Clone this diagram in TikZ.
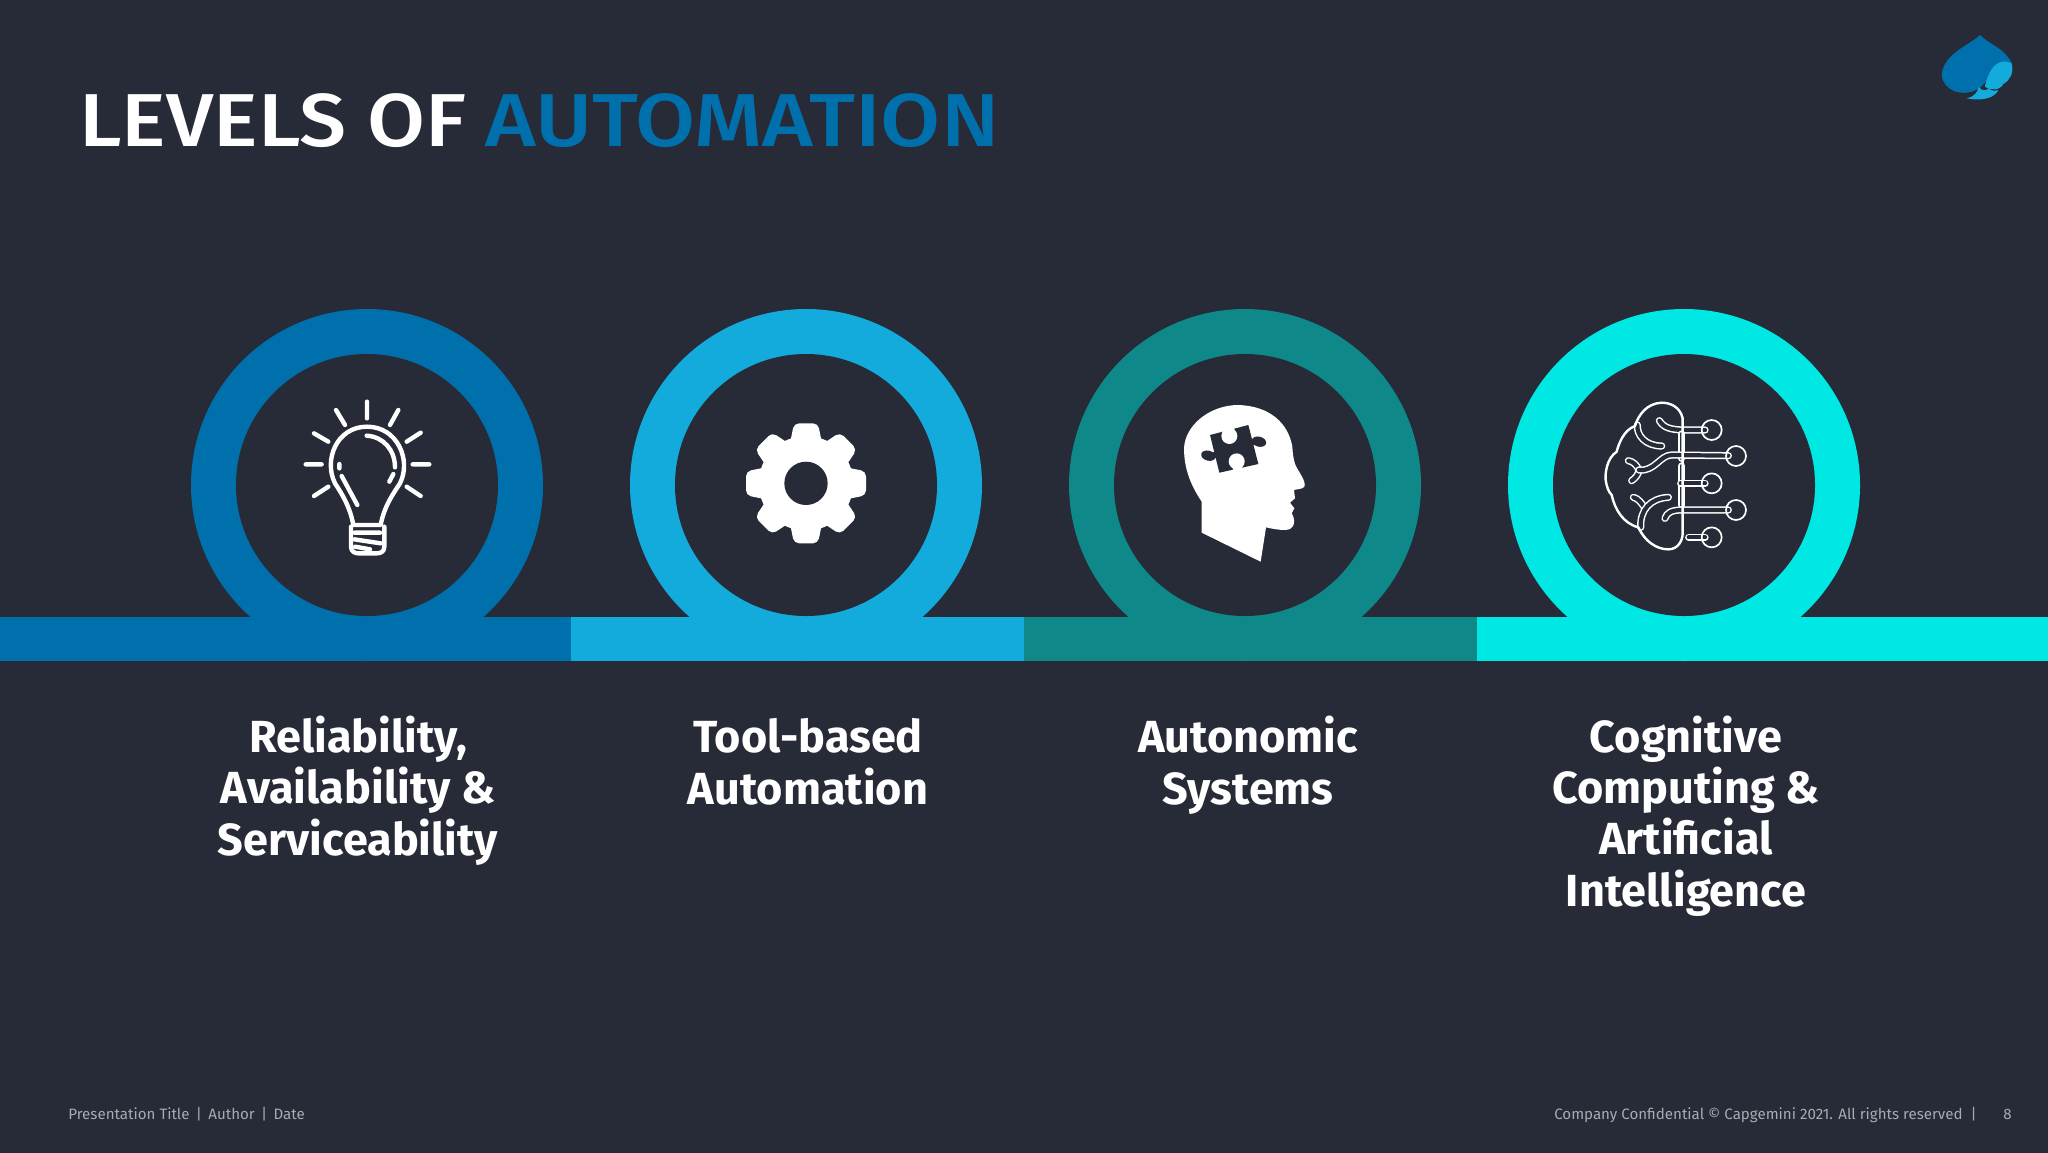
\documentclass[tikz,border=0pt]{standalone}
\usepackage{fontspec}
\setmainfont{Fira Sans}
\newfontfamily\medfontA[FakeStretch=1.12]{Fira Sans Medium}
\newfontfamily\medfontB[FakeStretch=1.16]{Fira Sans Medium}
\definecolor{bgc}{HTML}{272A37}
\definecolor{lvlA}{HTML}{0070AD}
\definecolor{lvlB}{HTML}{12ABDB}
\definecolor{lvlC}{HTML}{0E8889}
\definecolor{lvlD}{HTML}{00E8E4}
\definecolor{foot}{HTML}{A9ABB0}
\tikzset{
  label text/.style={align=center,text=white,font=\fontsize{22.5}{25.6}\selectfont\bfseries,anchor=base},
  foot text/.style={text=foot,font=\fontsize{7.55}{9}\selectfont,inner sep=0pt},
  title text/.style={inner sep=0pt,anchor=base west},
  ring hole/.style={fill=bgc},
  icon line/.style={draw=white,line width=2.2pt,line cap=round,line join=round},
  brain line/.style={draw=white,line width=1.2pt,line cap=round,line join=round},
  tube/.style={draw=white,line width=.75pt,double=bgc,double distance=2.1pt,line cap=round,line join=round},
  icon zoom/.style={shift={#1},scale=1/3}
}
\begin{document}
\begin{tikzpicture}[x=0.5pt,y=-0.5pt]
\useasboundingbox (0,0) rectangle (2048,1152);
\fill[bgc] (-6,-6) rectangle (2054,1158);

% rings
\fill[lvlA] (367,485) circle (176);
\fill[lvlB] (806,485) circle (176);
\fill[lvlC] (1245,485) circle (176);
\fill[lvlD] (1684,485) circle (176);
\fill[ring hole] (367,485) circle (131);
\fill[ring hole] (806,485) circle (131);
\fill[ring hole] (1245,485) circle (131);
\fill[ring hole] (1684,485) circle (131);
% band
\fill[lvlA] (-6,617) rectangle (571,661);
\fill[lvlB] (571,617) rectangle (1024,661);
\fill[lvlC] (1024,617) rectangle (1477,661);
\fill[lvlD] (1477,617) rectangle (2054,661);

% title
\node[title text,text=white,font=\fontsize{37.5}{40}\medfontA] (t1) at (79,146) {LEVELS OF};
\node[title text,text=lvlA,font=\fontsize{37.5}{40}\medfontB] (t2) at (485,146) {AUTOMATION};

% labels
\node[label text] (l1) at (358,855) {Reliability,\\Availability \&\\Serviceability};
\node[label text] (l2) at (808,804) {Tool-based\\Automation};
\node[label text] (l3) at (1248,804) {Autonomic\\Systems};
\node[label text] (l4) at (1686,906) {Cognitive\\Computing \&\\Artif{}icial\\Intelligence};

% footer
\node[foot text,anchor=base west] (f1) at (68,1119) {Presentation Title\hspace{3.2pt}|\hspace{3.2pt}Author\hspace{3.2pt}|\hspace{3.2pt}Date};
\node[foot text,anchor=base east] (f2) at (1977,1119) {Company Confidential © Capgemini 2021. All rights reserved\ \ |};
\node[foot text,anchor=base east] (f3) at (2012,1119) {8};

% bulb
\begin{scope}[icon zoom={(270,370)}]
\draw[icon line] (250,465) .. controls (240,410) and (215,370) .. (195,340) .. controls (160,270) and (200,170) .. (291,170) .. controls (382,170) and (425,270) .. (390,340) .. controls (370,370) and (342,410) .. (332,465) -- cycle;
\draw[icon line] (243,470) -- (243,530) .. controls (243,545) and (255,550) .. (265,550) -- (320,550) .. controls (332,550) and (343,545) .. (343,530) -- (343,470);
\draw[icon line] (253,488) -- (330,488) (253,508) -- (332,520) (255,530) -- (300,538);
\draw[icon line] (290,197) .. controls (340,200) and (375,240) .. (375,292);
\draw[icon line] (208,282) -- (208,295) (215,318) -- (262,405) (358,335) -- (370,312);
\draw[icon line] (291,95) -- (291,145) (198,120) -- (225,165) (385,120) -- (360,165) (132,190) -- (175,215) (452,188) -- (410,215) (107,283) -- (155,283) (428,283) -- (478,283) (132,378) -- (175,350) (452,378) -- (410,350);
\end{scope}

% gear
\begin{scope}[icon zoom={(720,390)}]
\fill[white] (258,280) circle (142);
\foreach \a in {0,45,...,315}{
  \fill[white,rotate around={\a:(258,280)},rounded corners=2.5pt] (210,160) -- (222,100) -- (294,100) -- (306,160) -- cycle;
}
\fill[bgc] (258,280) circle (65);
\end{scope}

% head
\begin{scope}[icon zoom={(1160,390)}]
\fill[white] (125,428) -- (125,335) .. controls (95,290) and (72,240) .. (72,175) .. controls (75,105) and (150,45) .. (235,45) .. controls (330,48) and (385,100) .. (397,170) .. controls (398,190) and (400,205) .. (405,222) .. controls (415,245) and (440,275) .. (433,290) .. controls (428,298) and (410,297) .. (402,300) -- (405,325) -- (390,338) -- (403,355) -- (395,370) .. controls (408,390) and (405,420) .. (375,420) .. controls (355,420) and (335,416) .. (318,412) -- (302,515) -- cycle;
\fill[bgc] (150,135) -- (265,105) -- (295,222) -- (178,248) -- cycle;
\fill[bgc,rotate around={-15:(297,155)}] (297,155) ellipse (22 and 15);
\fill[bgc] (280,148) rectangle (300,165);
\fill[bgc,rotate around={-15:(145,197)}] (145,197) ellipse (22 and 15);
\fill[bgc] (160,185) rectangle (175,205);
\fill[white] (208,138) circle (24);
\fill[white] (198,112) -- (222,105) -- (225,135) -- (195,140) -- cycle;
\fill[white] (230,214) circle (24);
\fill[white] (218,235) -- (245,230) -- (250,250) -- (222,255) -- cycle;
\end{scope}

% brain
\begin{scope}[icon zoom={(1590,390)}]
\draw[tube] (208,92) .. controls (222,115) and (245,118) .. (275,120) -- (345,120);
\draw[tube] (275,132) -- (275,205);
\draw[tube] (115,212) .. controls (130,215) and (140,225) .. (147,240);
\draw[tube] (125,272) .. controls (135,265) and (145,255) .. (147,240);
\draw[tube] (147,240) .. controls (195,245) and (210,195) .. (245,195) -- (415,197);
\draw[tube] (275,228) -- (275,345);
\draw[tube] (272,280) -- (345,280);
\draw[tube] (225,385) .. controls (230,368) and (245,360) .. (275,360) -- (415,360);
\draw[tube] (296,442) -- (345,442);
\draw[tube] (142,105) .. controls (140,135) and (165,168) .. (215,168);
\draw[tube] (130,322) .. controls (145,325) and (155,340) .. (165,355);
\draw[tube] (235,322) .. controls (180,325) and (150,360) .. (152,412);
\draw[brain line] (278,85) .. controls (270,50) and (240,38) .. (215,38) .. controls (170,40) and (145,75) .. (135,108) .. controls (100,120) and (85,165) .. (80,185) .. controls (50,205) and (45,250) .. (47,270) .. controls (50,290) and (55,305) .. (65,315) .. controls (75,360) and (100,400) .. (145,412) .. controls (165,455) and (200,478) .. (235,478) .. controls (265,478) and (278,450) .. (278,430) -- cycle;
\draw[brain line,line width=.85pt] (365,120) circle (30) (438,198) circle (30) (365,280) circle (30) (438,360) circle (30) (365,442) circle (30);
\end{scope}

% logo
\begin{scope}[icon zoom={(1920,20)}]
\fill[lvlA] (180,45) .. controls (150,75) and (70,100) .. (65,165) .. controls (70,215) and (130,230) .. (168,210) .. controls (195,200) and (205,165) .. (225,140) .. controls (240,125) and (260,122) .. (275,130) .. controls (255,85) and (210,75) .. (180,45) -- cycle;
\fill[lvlB] (275,130) .. controls (250,118) and (225,125) .. (208,160) .. controls (200,178) and (195,190) .. (195,200) .. controls (210,212) and (240,212) .. (250,192) .. controls (270,180) and (282,160) .. (275,130) -- cycle;
\fill[lvlB] (140,235) .. controls (165,230) and (175,212) .. (176,200) .. controls (185,215) and (200,212) .. (206,205) .. controls (215,215) and (228,212) .. (235,210) .. controls (225,232) and (190,245) .. (140,235) -- cycle;
\end{scope}
\end{tikzpicture}
\end{document}
